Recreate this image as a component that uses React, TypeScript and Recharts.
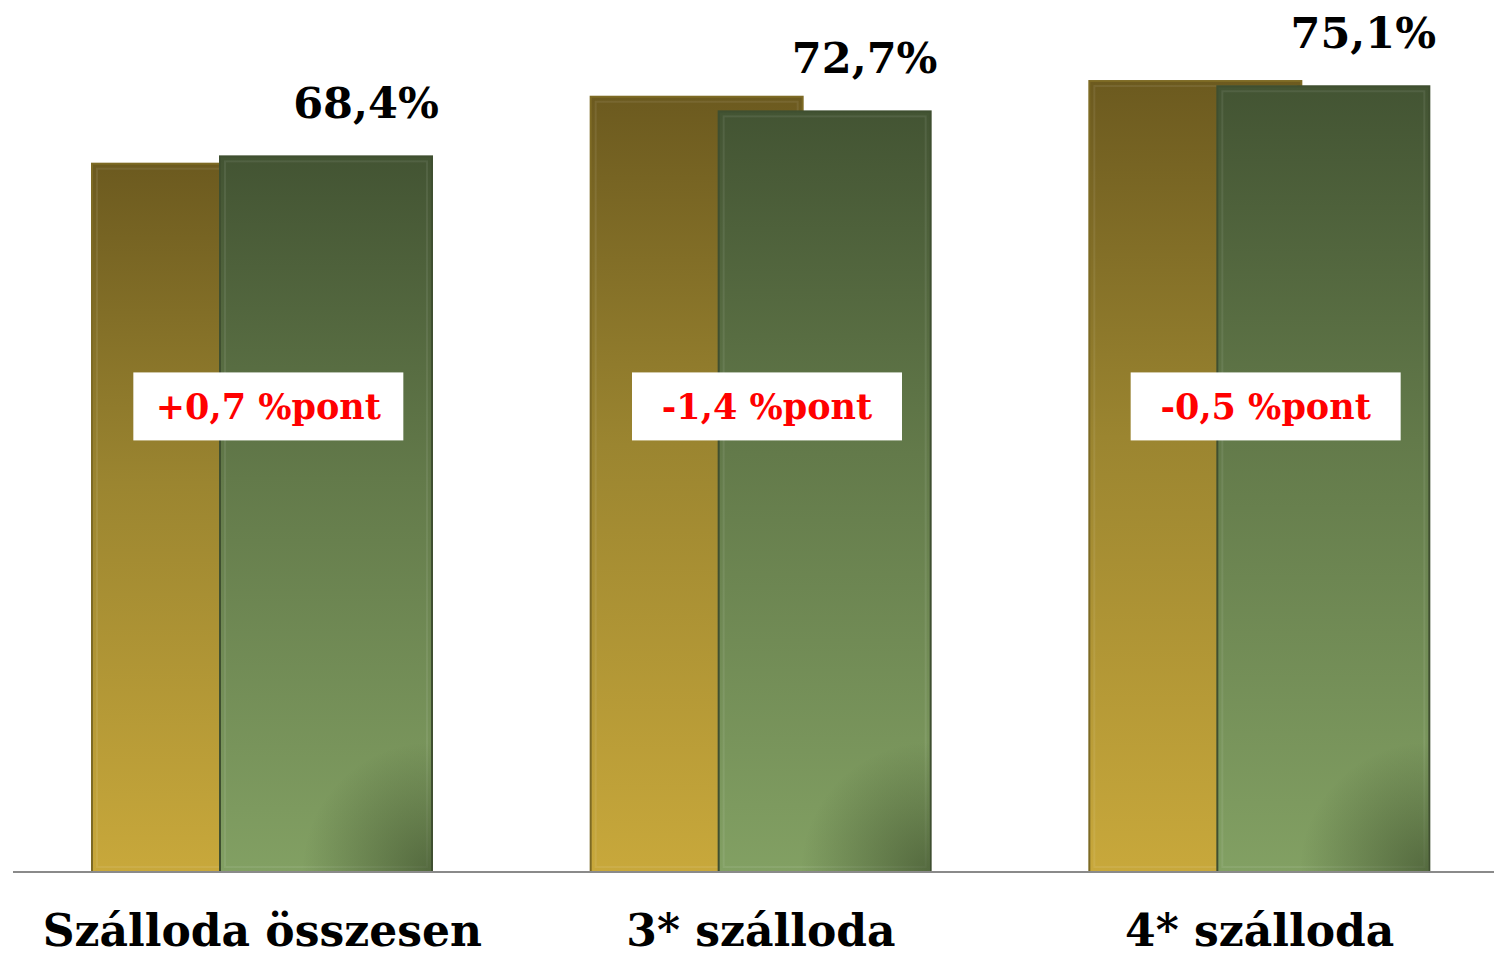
import { BarChart, Bar, XAxis, YAxis, LabelList, ReferenceDot } from "recharts";

const categories = ["Szálloda összesen", "3* szálloda", "4* szálloda"];
const prevYear = [67.7, 74.1, 75.6];
const currYear = [68.4, 72.7, 75.1];
const changes = ["+0,7 %pont", "-1,4 %pont", "-0,5 %pont"];

const FONT = "'DejaVu Serif', 'Liberation Serif', serif";

const data = categories.map((name, i) => ({
  name,
  prev: prevYear[i],
  curr: currYear[i],
}));

const fmt = (v: number) => v.toFixed(1).replace(".", ",") + "%";

function CategoryTick(props: any) {
  const { x, y, payload } = props;
  return (
    <text
      x={x}
      y={y + 74}
      textAnchor="middle"
      fontFamily={FONT}
      fontWeight="bold"
      fontSize={44}
      fill="#000"
    >
      {payload.value}
    </text>
  );
}

function ValueLabel(props: any) {
  const { x, y, width, value } = props;
  return (
    <text
      x={x + width / 2 + 40}
      y={y - 38}
      textAnchor="middle"
      fontFamily={FONT}
      fontWeight="bold"
      fontSize={43}
      fill="#000"
    >
      {fmt(value)}
    </text>
  );
}

// bar with a soft bevel edge; the front bar gets a shaded bottom-right corner
function BevelBar(props: any) {
  const { x, y, width, height, fill, stroke, index, shade } = props;
  if (height <= 0) return null;
  const gid = `shade-${index}`;
  return (
    <g>
      <rect x={x} y={y} width={width} height={height} fill={fill} stroke={stroke} strokeWidth={2} />
      <rect
        x={x + 5}
        y={y + 5}
        width={width - 10}
        height={height - 10}
        fill="none"
        stroke="rgba(255,255,255,0.08)"
        strokeWidth={2}
      />
      {shade && (
        <>
          <defs>
            <radialGradient id={gid} gradientUnits="userSpaceOnUse" cx={x + width} cy={y + height} r={130}>
              <stop offset="0%" stopColor="#26331a" stopOpacity={0.5} />
              <stop offset="100%" stopColor="#26331a" stopOpacity={0} />
            </radialGradient>
          </defs>
          <rect x={x + 1} y={y + 1} width={width - 2} height={height - 2} fill={`url(#${gid})`} />
        </>
      )}
    </g>
  );
}

function ChangeBox(label: string) {
  return (props: any) => {
    const { cx, cy } = props;
    return (
      <g>
        <rect x={cx + 6 - 135} y={cy - 34} width={270} height={68} fill="#fff" />
        <text
          x={cx + 6}
          y={cy + 13}
          textAnchor="middle"
          fontFamily={FONT}
          fontWeight="bold"
          fontSize={35}
          fill="#ff0000"
        >
          {label}
        </text>
      </g>
    );
  };
}

export default function App() {
  return (
    <div style={{ position: "absolute", left: 0, top: 0, width: 1494, height: 956, overflow: "hidden", background: "#fff" }}>
      <style>{"body{margin:0;overflow:hidden}"}</style>
      <BarChart
        width={1509}
        height={956}
        data={data}
        margin={{ top: 35, right: 0, bottom: 0, left: 13 }}
        barGap={-84}
      >
        <defs>
          <linearGradient id="goldGrad" x1="0" y1="0" x2="0" y2="1">
            <stop offset="0%" stopColor="#6c5a1f" />
            <stop offset="45%" stopColor="#9b8530" />
            <stop offset="100%" stopColor="#c8a83b" />
          </linearGradient>
          <linearGradient id="greenGrad" x1="0" y1="0" x2="0" y2="1">
            <stop offset="0%" stopColor="#435433" />
            <stop offset="45%" stopColor="#637a4a" />
            <stop offset="100%" stopColor="#82a063" />
          </linearGradient>
        </defs>
        <XAxis
          dataKey="name"
          height={84}
          axisLine={{ stroke: "#8a8a8a", strokeWidth: 2 }}
          tickLine={false}
          tickSize={0}
          tickMargin={0}
          tick={<CategoryTick />}
          interval={0}
        />
        <YAxis hide domain={[0, 80]} />
        <Bar
          dataKey="prev"
          barSize={212}
          fill="url(#goldGrad)"
          stroke="#7d6a24"
          shape={<BevelBar />}
          isAnimationActive={false}
        />
        <Bar
          dataKey="curr"
          barSize={212}
          fill="url(#greenGrad)"
          stroke="#3f4f30"
          shape={<BevelBar shade />}
          isAnimationActive={false}
        >
          <LabelList dataKey="curr" content={<ValueLabel />} />
        </Bar>
        {categories.map((c, i) => (
          <ReferenceDot key={c} x={c} y={44.5} r={0} shape={ChangeBox(changes[i])} />
        ))}
      </BarChart>
    </div>
  );
}
